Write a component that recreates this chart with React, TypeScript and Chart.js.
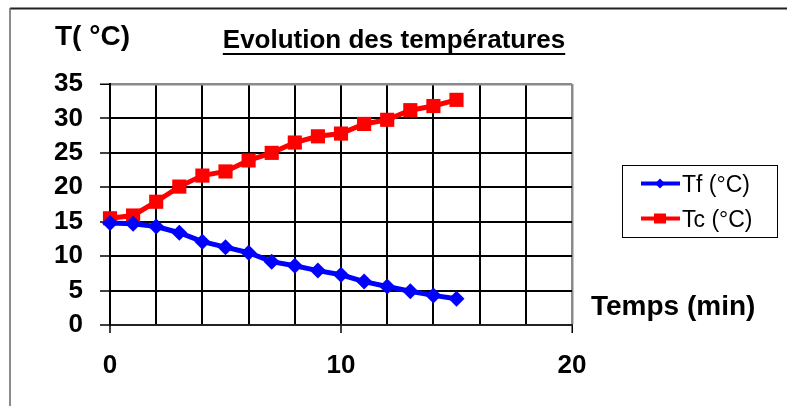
import React, { useEffect, useRef } from "react";
import { Chart, registerables } from "chart.js";

Chart.register(...registerables);

const times = [0, 1, 2, 3, 4, 5, 6, 7, 8, 9, 10, 11, 12, 13, 14, 15];
const tfValues = [14.8, 14.7, 14.3, 13.4, 12.1, 11.3, 10.5, 9.2, 8.6, 7.9, 7.3, 6.3, 5.6, 4.9, 4.3, 3.8];
const tcValues = [15.5, 15.9, 17.9, 20.1, 21.7, 22.3, 23.9, 25.0, 26.5, 27.4, 27.8, 29.2, 29.8, 31.2, 31.8, 32.7];
const seriesLabels = ["Tf (°C)", "Tc (°C)"];
const xLabeledTicks = [0, 10, 20];
const titleText = "Evolution des températures";
const yAxisTitle = "T( °C)";
const xAxisTitle = "Temps (min)";

const FONT = "'Liberation Sans', Arial, sans-serif";

const decorPlugin = {
  id: "decor",
  afterDraw(chart: any) {
    const ctx = chart.ctx as CanvasRenderingContext2D;
    ctx.save();
    // frame
    ctx.strokeStyle = "#222";
    ctx.lineWidth = 2;
    ctx.beginPath();
    ctx.moveTo(10, 8.5);
    ctx.lineTo(787, 8.5);
    ctx.stroke();
    ctx.strokeStyle = "#666";
    ctx.lineWidth = 1.5;
    ctx.beginPath();
    ctx.moveTo(10, 8);
    ctx.lineTo(10, 406);
    ctx.stroke();

    ctx.fillStyle = "#000";
    ctx.textBaseline = "alphabetic";
    // title
    ctx.font = `bold 26px ${FONT}`;
    ctx.textAlign = "center";
    ctx.fillText(titleText, 394, 48);
    const w = ctx.measureText(titleText).width;
    ctx.fillRect(394 - w / 2, 53, w, 2);
    // y title
    ctx.font = `bold 28px ${FONT}`;
    ctx.textAlign = "left";
    ctx.fillText(yAxisTitle, 55, 45);
    // x title
    ctx.fillText(xAxisTitle, 591, 315);

    // legend
    ctx.strokeStyle = "#000";
    ctx.lineWidth = 1;
    ctx.strokeRect(622.5, 165.5, 155, 72);
    const rows = [183.5, 218.5];
    chart.data.datasets.forEach((ds: any, i: number) => {
      const y = rows[i];
      ctx.strokeStyle = ds.borderColor;
      ctx.lineWidth = 4;
      ctx.beginPath();
      ctx.moveTo(641, y);
      ctx.lineTo(680, y);
      ctx.stroke();
      ctx.fillStyle = ds.borderColor;
      ctx.beginPath();
      if (ds.pointStyle === "rectRot") {
        ctx.moveTo(660, y - 5);
        ctx.lineTo(665, y);
        ctx.lineTo(660, y + 5);
        ctx.lineTo(655, y);
      } else {
        ctx.rect(654, y - 5, 12, 10);
      }
      ctx.closePath();
      ctx.fill();
      ctx.fillStyle = "#000";
      ctx.font = `23px ${FONT}`;
      ctx.textAlign = "left";
      ctx.fillText(ds.label, 682, y + 8);
    });
    ctx.restore();
  },
};

export default function App() {
  const ref = useRef<HTMLCanvasElement>(null);
  useEffect(() => {
    if (!ref.current) return;
    const chart = new Chart(ref.current, {
      type: "line",
      data: {
        datasets: [
          {
            label: seriesLabels[0],
            data: times.map((t, i) => ({ x: t, y: tfValues[i] })),
            borderColor: "#0000FF",
            backgroundColor: "#0000FF",
            borderWidth: 5,
            pointStyle: "rectRot",
            pointRadius: 8,
            pointBorderWidth: 0,
            clip: false as any,
            tension: 0,
          },
          {
            label: seriesLabels[1],
            data: times.map((t, i) => ({ x: t, y: tcValues[i] })),
            borderColor: "#FF0000",
            backgroundColor: "#FF0000",
            borderWidth: 5,
            pointStyle: "rect",
            pointRadius: 10,
            pointBorderWidth: 0,
            clip: false as any,
            tension: 0,
          },
        ],
      },
      options: {
        animation: false,
        responsive: true,
        maintainAspectRatio: false,
        layout: { padding: { left: 0, right: 215, top: 84, bottom: 0 } },
        plugins: { legend: { display: false }, title: { display: false }, tooltip: { enabled: false } },
        scales: {
          x: {
            type: "linear",
            min: 0,
            max: 20,
            afterFit: (s: any) => {
              s.height = 81;
            },
            ticks: {
              stepSize: 2,
              autoSkip: false,
              maxRotation: 0,
              padding: 17,
              color: "#000",
              font: { family: FONT, size: 26, weight: "bold" },
              callback: (v: any) => (xLabeledTicks.includes(Number(v)) ? String(v) : ""),
            },
            grid: {
              color: (c: any) => (c.tick && c.tick.value === 20 ? "#8a8a8a" : "#000"),
              lineWidth: (c: any) => (c.tick && c.tick.value === 20 ? 2.5 : 2),
              tickLength: 8,
              tickColor: (c: any) => (c.tick && xLabeledTicks.includes(c.tick.value) ? "#000" : "rgba(0,0,0,0)"),
              tickWidth: 1.5,
            },
            border: { color: "#222", width: 2 },
          },
          y: {
            min: 0,
            max: 35,
            afterFit: (s: any) => {
              s.width = 110;
            },
            ticks: {
              stepSize: 5,
              padding: 17,
              color: "#000",
              font: { family: FONT, size: 26, weight: "bold" },
            },
            grid: {
              color: (c: any) => (c.tick && c.tick.value === 35 ? "#8a8a8a" : "#000"),
              lineWidth: (c: any) => (c.tick && c.tick.value === 35 ? 2.5 : 2),
              tickLength: 10,
              tickColor: "#000",
              tickWidth: 1.5,
            },
            border: { color: "#000", width: 2 },
          },
        },
      },
      plugins: [decorPlugin],
    });
    return () => chart.destroy();
  }, []);
  return (
    <div style={{ position: "fixed", left: 0, top: 0, width: 787, height: 406, background: "#fff" }}>
      <canvas ref={ref} />
    </div>
  );
}
